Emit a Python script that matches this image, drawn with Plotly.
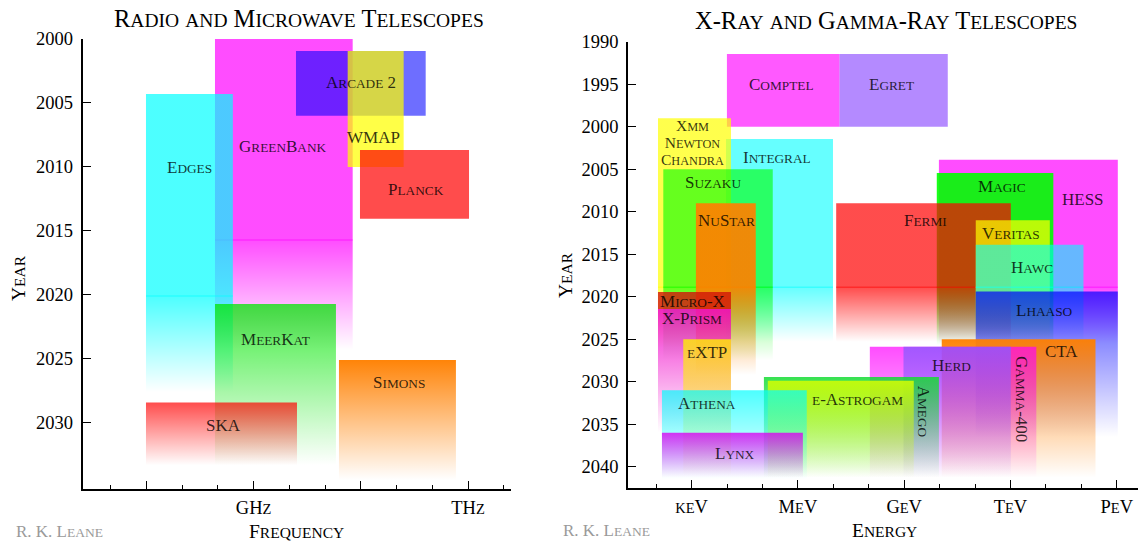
import plotly.graph_objects as go

# ---------------- data : radio / microwave (x = log10 frequency / Hz) ----------------
radio_names = ["GreenBank", "Edges", "MeerKat", "SKA", "Arcade 2", "WMAP", "Planck", "Simons"]
radio_f_lo = [8.46, 7.495, 8.46, 7.495, 9.593, 10.316, 10.488, 10.194]
radio_f_hi = [10.386, 8.71, 10.152, 9.607, 11.407, 11.099, 12.013, 11.83]
radio_start = [2000.0, 2004.3, 2020.7, 2028.4, 2000.94, 2000.94, 2008.67, 2025.08]
radio_fade = [2015.7, 2020.08, 2020.7, 2028.4, None, None, None, 2025.08]
radio_end = [2024.3, 2027.6, 2033.3, 2033.3, 2005.99, 2010.0, 2014.04, 2034.45]

# ---------------- data : x-ray / gamma-ray (x = log10 energy / eV) ----------------
xg_names = ["Comptel", "Egret", "Integral", "Xmm", "Suzaku", "NuStar", "HESS", "Magic",
            "Fermi", "Veritas", "Hawc", "Lhaaso", "Micro-X", "X-Prism", "eXTP", "CTA",
            "Gamma-400", "Herd", "Amego", "e-Astrogam", "Athena", "Lynx"]
xg_e_lo = [3.996, 7.175, 3.97, 2.05, 2.2, 3.12, 9.98, 9.92,
           7.08, 11.02, 11.02, 11.02, 2.05, 2.05, 2.763, 10.06,
           8.03, 8.98, 5.04, 5.15, 2.162, 2.162]
xg_e_hi = [7.175, 10.23, 6.99, 4.11, 5.29, 4.81, 15.03, 13.21,
           12.01, 13.11, 14.06, 15.03, 4.11, 4.11, 4.11, 14.4,
           12.73, 12.01, 9.98, 9.27, 6.25, 6.14]
xg_start = [1991.45, 1991.45, 2001.45, 1999.0, 2005.0, 2009.0, 2003.9, 2005.45,
            2009.0, 2011.0, 2013.9, 2019.4, 2019.45, 2021.45, 2025.0, 2025.0,
            2025.9, 2025.9, 2029.45, 2029.9, 2031.0, 2036.0]
xg_fade = [None, None, 2018.9, 2018.9, 2018.9, 2018.9, 2018.9, 2018.9,
           2018.9, 2018.9, 2018.9, 2019.4, None, 2021.45, 2025.0, 2025.0,
           2025.9, 2025.9, 2029.45, 2029.9, 2031.0, 2036.0]
xg_end = [2000.0, 2000.0, 2025.3, 2026.0, 2027.5, 2029.2, 2025.5, 2025.7,
          2025.3, 2025.5, 2025.5, 2036.5, 2021.45, 2036.0, 2041.0, 2041.3,
          2041.3, 2041.3, 2041.3, 2041.3, 2041.5, 2041.3]

# tick labels
radio_tickvals = [7.5, 9, 10.5, 12]
radio_ticktext = ["", "GHz", "", "THz"]
radio_minor = [7, 8, 8.5, 9.5, 10, 11, 11.5, 12.5]
xg_tickvals = [3, 6, 9, 12, 15]
xg_ticktext = ["keV", "MeV", "GeV", "TeV", "PeV"]
xg_minor = [2, 4, 5, 7, 8, 10, 11, 13, 14]
radio_years = [2000, 2005, 2010, 2015, 2020, 2025, 2030]
xg_years = [1990, 1995, 2000, 2005, 2010, 2015, 2020, 2025, 2030, 2035, 2040]

# ---------------- styles ----------------
radio_colors = [((255, 0, 255), 0.7), ((0, 255, 255), 0.7), ((0, 230, 0), 0.75), ((255, 0, 0), 0.7),
                ((0, 0, 255), 0.57), ((255, 255, 0), 0.72), ((255, 0, 0), 0.7), ((255, 128, 0), 0.97)]
xg_colors = [((255, 0, 255), 0.65), ((130, 60, 255), 0.6), ((0, 255, 255), 0.6), ((255, 255, 0), 0.7),
             ((0, 255, 0), 0.6), ((255, 128, 0), 0.92), ((255, 0, 255), 0.7), ((0, 255, 0), 0.9),
             ((255, 0, 0), 0.7), ((255, 255, 0), 0.7), ((0, 255, 255), 0.6), ((0, 0, 255), 0.7),
             ((210, 20, 10), 0.8), ((240, 0, 200), 0.85), ((255, 240, 0), 0.8), ((255, 128, 0), 0.96),
             ((255, 0, 255), 0.7), ((140, 90, 255), 0.8), ((20, 220, 50), 0.85), ((215, 255, 0), 0.85),
             ((0, 255, 255), 0.7), ((220, 0, 240), 0.8)]

# label placement (data coordinates)
radio_lab = {"GreenBank": (9.417, 2008.36), "Edges": (8.097, 2010.05), "MeerKat": (9.30, 2023.46),
             "SKA": (8.576, 2030.18), "Arcade 2": (10.50, 2003.38), "WMAP": (10.684, 2007.7),
             "Planck": (11.278, 2011.75), "Simons": (11.04, 2026.82)}
xg_lab = {"Comptel": (5.533, 1994.98), "Egret": (8.639, 1994.98), "Integral": (5.415, 2003.6),
          "Suzaku": (3.609, 2006.54), "NuStar": (3.973, 2011.06), "HESS": (14.05, 2008.54),
          "Magic": (11.767, 2006.98), "Fermi": (9.615, 2011.06), "Veritas": (12.007, 2012.54),
          "Hawc": (12.61, 2016.54), "Lhaaso": (12.96, 2021.65), "Micro-X": (3.017, 2020.59),
          "X-Prism": (3.017, 2022.62), "eXTP": (3.43, 2026.54), "CTA": (13.43, 2026.5),
          "Herd": (10.323, 2028.07), "e-Astrogam": (7.685, 2032.15), "Athena": (3.43, 2032.54),
          "Lynx": (4.21, 2038.5)}
xg_rot_lab = {"Amego": (9.55, 2033.5), "Gamma-400": (12.33, 2032.06)}
xmm_lines = ["Xmm", "Newton", "Chandra"]
xmm_pos = (3.014, 2001.85)

FONT = "Liberation Serif"
W, H = 1139, 543


def sc(text, small, big=None):
    """emulate small caps: lowercase letters -> smaller capitals"""
    def wrap(t, mode):
        if mode == "s":
            return f'<span style="font-size:{small}px">{t}</span>'
        if big is not None:
            return f'<span style="font-size:{big}px">{t}</span>'
        return t
    out, buf, mode = [], "", None
    for ch in text:
        m = "s" if ch.islower() else "b"
        if mode is not None and m != mode:
            out.append(wrap(buf, mode))
            buf = ""
        mode = m
        buf += ch.upper()
    if buf:
        out.append(wrap(buf, mode))
    return "".join(out)


fig = go.Figure()


def add_box(x0, x1, y0, y1, fade, col, xa, ya):
    (r, g, b), a = col
    kw = dict(x=[x0, x1, x1, x0, x0], y=[y0, y0, y1, y1, y0], mode="lines",
              line=dict(width=0), fill="toself", hoverinfo="skip", showlegend=False,
              xaxis=xa, yaxis=ya)
    if fade is None:
        kw["fillcolor"] = f"rgba({r},{g},{b},{a})"
    else:
        kw["fillgradient"] = dict(type="vertical", start=fade, stop=y1,
                                  colorscale=[[0, f"rgba({r},{g},{b},{a})"],
                                              [1, f"rgba({r},{g},{b},0)"]])
    fig.add_trace(go.Scatter(**kw))
    if fade is not None and fade > y0 + 0.05:
        fig.add_trace(go.Scatter(x=[x0, x1], y=[fade, fade], mode="lines",
                                 line=dict(color=f"rgba({r},{g},{b},0.45)", width=1.5),
                                 hoverinfo="skip", showlegend=False, xaxis=xa, yaxis=ya))


for i in range(len(radio_names)):
    add_box(radio_f_lo[i], radio_f_hi[i], radio_start[i], radio_end[i], radio_fade[i],
            radio_colors[i], "x", "y")
for i in range(len(xg_names)):
    add_box(xg_e_lo[i], xg_e_hi[i], xg_start[i], xg_end[i], xg_fade[i],
            xg_colors[i], "x2", "y2")

ann = []
LBL, LBS = 17, 13.3
TXT = "rgba(0,0,0,0.8)"
for n, (x, y) in radio_lab.items():
    ann.append(dict(x=x, y=y, xref="x", yref="y", text=sc(n, LBS), showarrow=False,
                    font=dict(family=FONT, size=LBL, color=TXT)))
for n, (x, y) in xg_lab.items():
    ann.append(dict(x=x, y=y, xref="x2", yref="y2", text=sc(n, LBS), showarrow=False,
                    font=dict(family=FONT, size=LBL, color=TXT)))
for n, (x, y) in xg_rot_lab.items():
    ann.append(dict(x=x, y=y, xref="x2", yref="y2", text=sc(n, LBS), showarrow=False,
                    textangle=90, font=dict(family=FONT, size=LBL, color=TXT)))
# three-line label: base size sets line spacing, spans carry the glyph sizes
ann.append(dict(x=xmm_pos[0], y=xmm_pos[1], xref="x2", yref="y2", showarrow=False,
                text="<br>".join(sc(n, 12.3, big=15.5) for n in xmm_lines),
                font=dict(family=FONT, size=13, color=TXT)))


def paper(px, py):
    return px / W, 1 - py / H


def pann(px, py, text, size, color="black", angle=0, xanchor="center"):
    x, y = paper(px, py)
    ann.append(dict(x=x, y=y, xref="paper", yref="paper", text=text, showarrow=False,
                    textangle=angle, xanchor=xanchor, yanchor="middle",
                    font=dict(family=FONT, size=size, color=color)))


pann(299, 18, sc("Radio and Microwave Telescopes", 19.5), 24.5)
pann(885.5, 20, sc("X-Ray and Gamma-Ray Telescopes", 19.5), 24.5)
pann(18, 278, sc("Year", 15.5), 19.5, angle=-90)
pann(565, 275, sc("Year", 15.5), 19.5, angle=-90)
pann(296.6, 531.5, sc("Frequency", 15.5), 19.5)
pann(884, 530.5, sc("Energy", 15.5), 19.5)
pann(14, 531.5, sc("R. K. Leane", 13.5), 17, color="#9a9a9a", xanchor="left")
pann(561, 530.5, sc("R. K. Leane", 13.5), 17, color="#9a9a9a", xanchor="left")

axis_common = dict(showgrid=False, zeroline=False, showline=True, linecolor="black",
                   linewidth=2, ticks="inside", ticklen=8, tickwidth=1.3, tickcolor="black",
                   tickfont=dict(family=FONT, size=18.5, color="black"), mirror=False,
                   automargin=False)

fig.update_layout(
    width=W, height=H, margin=dict(l=0, r=0, t=0, b=0, pad=0, autoexpand=False),
    paper_bgcolor="white", plot_bgcolor="white", showlegend=False,
    annotations=ann,
    xaxis=dict(domain=[82.7 / W, 510.7 / W], range=[6.61, 12.596], anchor="y",
               tickmode="array", tickvals=radio_tickvals,
               ticktext=[sc(t, 14.5) for t in radio_ticktext],
               minor=dict(tickvals=radio_minor, ticks="inside", ticklen=4, tickwidth=1.3,
                          tickcolor="black"),
               ticklabelstandoff=1, **axis_common),
    yaxis=dict(domain=[1 - 489 / H, 1 - 39 / H], range=[2035.16, 2000], anchor="x",
               tickmode="array", tickvals=radio_years, ticktext=[str(v) for v in radio_years],
               ticklabelstandoff=4, **axis_common),
    xaxis2=dict(domain=[628.3 / W, 1138 / W], range=[1.212, 15.6], anchor="y2",
                tickmode="array", tickvals=xg_tickvals,
                ticktext=[sc(t, 14.5) for t in xg_ticktext],
                minor=dict(tickvals=xg_minor, ticks="inside", ticklen=4, tickwidth=1.3,
                           tickcolor="black"),
                ticklabelstandoff=1, **axis_common),
    yaxis2=dict(domain=[1 - 487.7 / H, 1 - 41.7 / H], range=[2042.47, 1990], anchor="x2",
                tickmode="array", tickvals=xg_years, ticktext=[str(v) for v in xg_years],
                ticklabelstandoff=4, **axis_common),
)

fig.write_html("out.html")
